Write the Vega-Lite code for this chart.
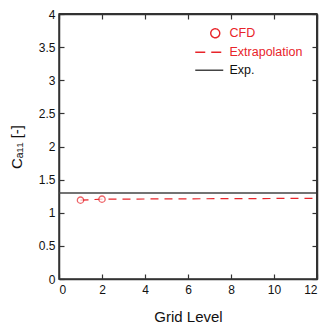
{
  "$schema": "https://vega.github.io/schema/vega-lite/v6.json",
  "autosize": {"type": "none"},
  "padding": {"left": 59, "top": 14, "right": 5, "bottom": 48},
  "width": 258,
  "height": 265,
  "background": "white",
  "config": {
    "font": "Liberation Sans",
    "view": {"stroke": "#333333", "strokeWidth": 1.5},
    "axis": {
      "grid": false,
      "domainColor": "#333333",
      "domainWidth": 1.5,
      "tickColor": "#333333",
      "tickWidth": 1.2,
      "tickSize": -5,
      "labelFont": "Liberation Sans",
      "labelFontSize": 12,
      "labelColor": "#111111",
      "titleFont": "Liberation Sans",
      "titleFontSize": 15,
      "titleFontWeight": "normal",
      "titleColor": "#111111"
    }
  },
  "data": {
    "values": [
      {"series": "CFD", "x": 1, "y": 1.19},
      {"series": "CFD", "x": 2, "y": 1.205},
      {"series": "Extrapolation", "x": 1, "y": 1.19},
      {"series": "Extrapolation", "x": 2, "y": 1.205},
      {"series": "Extrapolation", "x": 12, "y": 1.218},
      {"series": "Exp.", "x": 0, "y": 1.3},
      {"series": "Exp.", "x": 12, "y": 1.3}
    ]
  },
  "layer": [
    {
      "transform": [{"filter": "datum.series === 'Exp.'"}],
      "mark": {"type": "line", "strokeWidth": 1.5},
      "encoding": {
        "x": {"field": "x", "type": "quantitative", "scale": {"domain": [0, 12], "nice": false},
          "axis": {"orient": "bottom", "values": [0, 2, 4, 6, 8, 10, 12], "format": "~g", "title": "Grid Level", "labelPadding": 10, "titlePadding": 14}},
        "y": {"field": "y", "type": "quantitative", "scale": {"domain": [0, 4], "nice": false},
          "axis": {"orient": "left", "values": [0, 0.5, 1, 1.5, 2, 2.5, 3, 3.5, 4], "format": "~g", "title": "Cₐ₁₁  [-]", "labelPadding": 9, "titlePadding": 14}},
        "color": {"field": "series", "type": "nominal",
          "scale": {"domain": ["CFD", "Extrapolation", "Exp."], "range": ["#e8242a", "#e8242a", "#444444"]},
          "legend": {
            "orient": "none", "legendX": 144, "legendY": 13,
            "title": null,
            "symbolSize": 100,
            "symbolStrokeWidth": 1.4,
            "labelFontSize": 12.5,
            "labelFont": "Liberation Sans",
            "rowPadding": 5,
            "labelOffset": 14,
            "encode": {
              "symbols": {"update": {
                "shape": {"signal": "datum.value === 'CFD' ? 'M2.1,0 A0.9,0.9 0 1 0 0.3,0 A0.9,0.9 0 1 0 2.1,0 Z' : 'M-2.8,0 H2.8'"},
                "size": {"value": 100},
                "strokeDash": {"signal": "datum.value === 'Extrapolation' ? [10, 6] : [1, 0]"},
                "fill": {"value": "transparent"},
                "stroke": {"signal": "datum.value === 'Exp.' ? '#111111' : '#e8242a'"}
              }},
              "labels": {"update": {
                "fill": {"signal": "datum.value === 'Exp.' ? '#111111' : '#e8242a'"}
              }}
            }
          }
        }
      }
    },
    {
      "transform": [{"filter": "datum.series === 'Extrapolation'"}],
      "mark": {"type": "line", "strokeWidth": 1.2, "strokeDash": [8, 6]},
      "encoding": {
        "x": {"field": "x", "type": "quantitative", "axis": null},
        "y": {"field": "y", "type": "quantitative", "axis": null},
        "color": {"field": "series", "type": "nominal"}
      }
    },
    {
      "transform": [{"filter": "datum.series === 'CFD'"}],
      "mark": {"type": "point", "shape": "circle", "filled": false, "size": 40, "strokeWidth": 1.3, "fill": "white"},
      "encoding": {
        "x": {"field": "x", "type": "quantitative", "axis": null},
        "y": {"field": "y", "type": "quantitative", "axis": null},
        "color": {"field": "series", "type": "nominal"}
      }
    },
    {
      "mark": {"type": "rule", "color": "#333333", "strokeWidth": 1.5},
      "encoding": {
        "x": {"datum": 12, "type": "quantitative", "axis": {"orient": "top", "values": [0, 2, 4, 6, 8, 10, 12], "labelColor": "transparent", "title": null}},
        "y": {"datum": 4, "type": "quantitative", "axis": {"orient": "right", "values": [0, 0.5, 1, 1.5, 2, 2.5, 3, 3.5, 4], "labelColor": "transparent", "title": null}}
      }
    },
    {
      "mark": {"type": "rule", "color": "#333333", "strokeWidth": 1.5},
      "encoding": {
        "y": {"datum": 4, "type": "quantitative", "axis": null}
      }
    },
    {
      "mark": {"type": "rule", "color": "#333333", "strokeWidth": 1.5},
      "encoding": {
        "x": {"datum": 12, "type": "quantitative", "axis": null}
      }
    }
  ],
  "resolve": {"axis": {"x": "independent", "y": "independent"}}
}
